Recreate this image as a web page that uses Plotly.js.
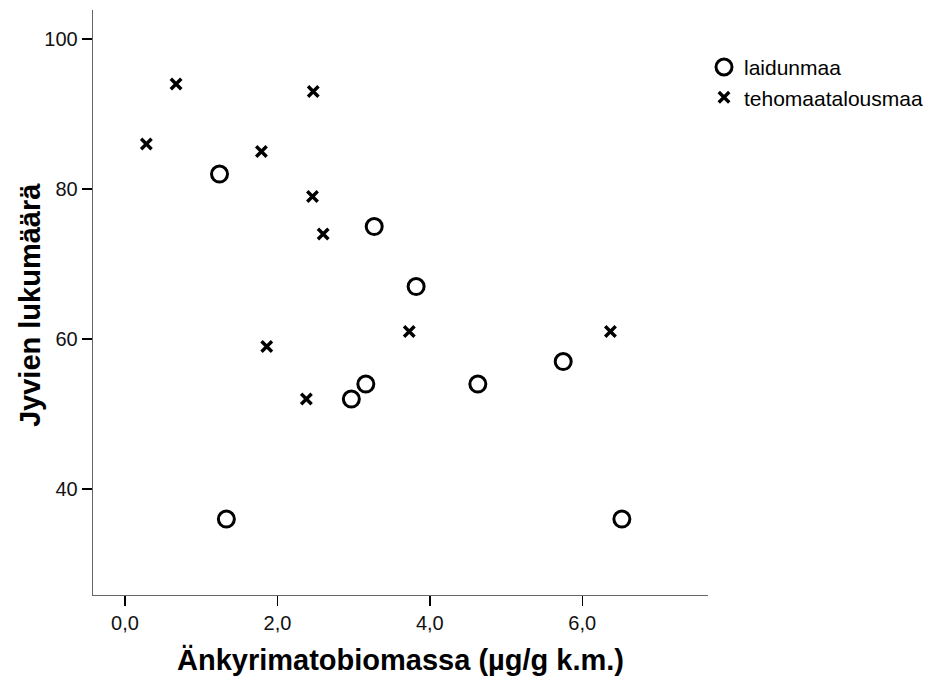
<!DOCTYPE html>
<html>
<head>
<meta charset="utf-8">
<script src="https://cdn.plot.ly/plotly-3.0.1.min.js"></script>
<style>html,body{margin:0;padding:0;background:#fff;}#chart{width:933px;height:682px;}</style>
</head>
<body>
<div id="chart"></div>
<script>
// laidunmaa (circles)
const laidunX = [1.24, 1.33, 2.97, 3.16, 3.27, 3.82, 4.63, 5.75, 6.52];
const laidunY = [82, 36, 52, 54, 75, 67, 54, 57, 36];
// tehomaatalousmaa (crosses)
const tehoX = [0.28, 0.67, 1.79, 2.47, 2.46, 2.60, 1.86, 2.38, 3.73, 6.37];
const tehoY = [86, 94, 85, 93, 79, 74, 59, 52, 61, 61];
const xTickVals = [0, 2, 4, 6];
const xTickText = ["0,0", "2,0", "4,0", "6,0"];
const yTickVals = [40, 60, 80, 100];
const yTickText = ["40", "60", "80", "100"];
const yTitle = 'Jyvien lukumäärä';

const traces = [
  {
    type: 'scatter', mode: 'markers', name: 'laidunmaa',
    x: laidunX, y: laidunY,
    marker: {symbol: 'circle-open', size: 16, color: '#000', line: {width: 3, color: '#000'}}
  },
  {
    type: 'scatter', mode: 'markers', name: 'tehomaatalousmaa',
    x: tehoX, y: tehoY,
    marker: {symbol: 'x-thin-open', size: 10.5, color: '#000', line: {width: 3.4, color: '#000'}}
  }
];

const layout = {
  width: 933, height: 682,
  margin: {l: 93, r: 225, t: 10, b: 87, autoexpand: false},
  paper_bgcolor: '#fff', plot_bgcolor: '#fff',
  font: {family: '"Liberation Sans", Arial, sans-serif', color: '#000', size: 16},
  xaxis: {
    range: [-0.42, 7.65], showgrid: false, zeroline: false,
    showline: true, linecolor: '#666', linewidth: 1.3,
    ticks: 'outside', ticklen: 10, tickcolor: '#000', tickwidth: 1.5,
    tickvals: xTickVals, ticktext: xTickText,
    tickfont: {size: 20, color: '#111'},
    title: {text: 'Änkyrimatobiomassa (µg/g k.m.)', font: {size: 29, color: '#000', weight: 'bold'}, standoff: 16}
  },
  yaxis: {
    range: [25.87, 103.87], showgrid: false, zeroline: false,
    showline: true, linecolor: '#666', linewidth: 1.3,
    ticks: 'outside', ticklen: 10, tickcolor: '#000', tickwidth: 1.5,
    tickvals: yTickVals, ticktext: yTickText,
    tickfont: {size: 20, color: '#111'}
  },
  annotations: [{
    text: yTitle, xref: 'paper', yref: 'paper',
    x: -0.1024, y: 0.4957, xanchor: 'center', yanchor: 'middle',
    textangle: -90, showarrow: false,
    font: {size: 29, color: '#000', weight: 'bold'}
  }],
  legend: {
    x: 0.9935, xanchor: 'left', y: 0.937, yanchor: 'top',
    font: {size: 21, color: '#000'}, itemwidth: 30, tracegroupgap: 0,
    bgcolor: 'rgba(0,0,0,0)'
  },
  showlegend: true
};

Plotly.newPlot('chart', traces, layout, {displayModeBar: false, staticPlot: true});
</script>
</body>
</html>
